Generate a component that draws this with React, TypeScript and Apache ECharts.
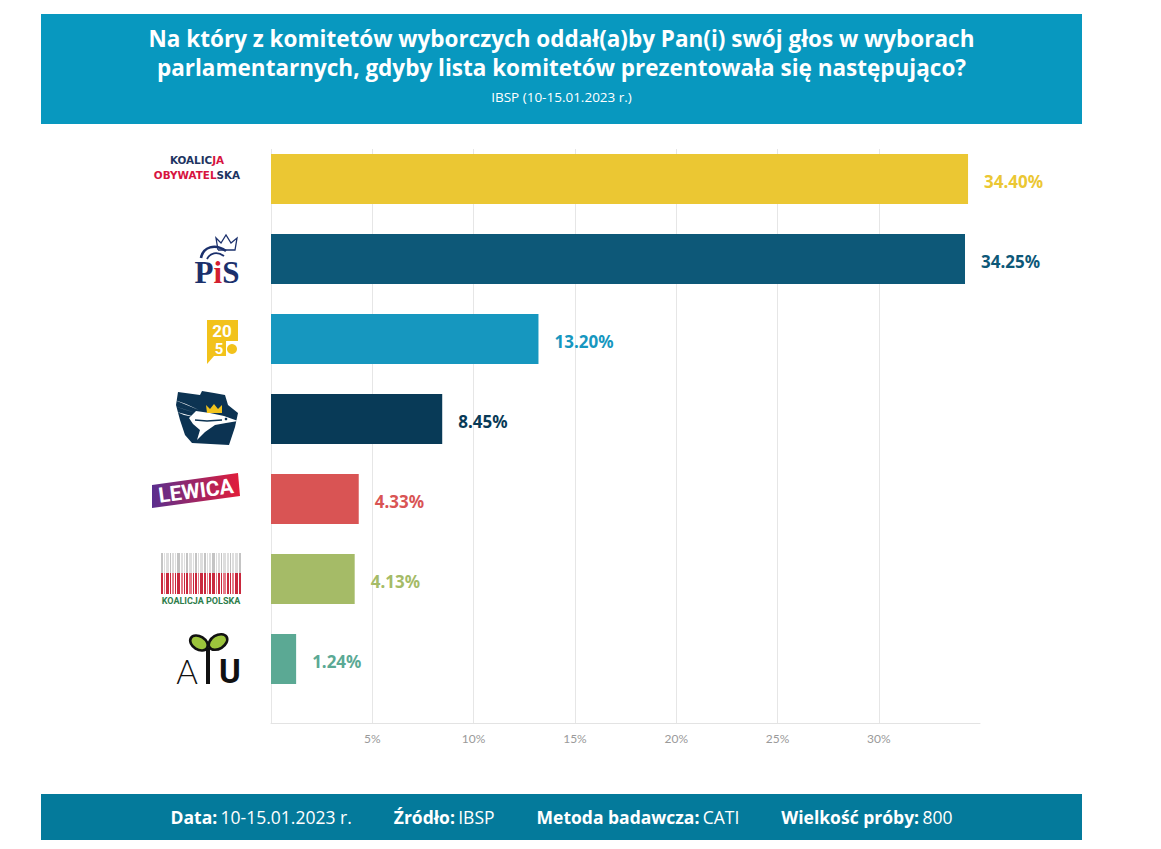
import React, { useEffect, useRef } from "react";
import * as echarts from "echarts";

// ---- data ----
const categories = [
  "Koalicja Obywatelska",
  "Prawo i Sprawiedliwość",
  "Polska 2050",
  "Konfederacja",
  "Lewica",
  "Koalicja Polska",
  "Agrounia",
];
const values = [34.4, 34.25, 13.2, 8.45, 4.33, 4.13, 1.24];
const barColors = ["#ebc733", "#0d5878", "#1697bf", "#083a57", "#d95454", "#a5bb67", "#5ba994"];
const axisMax = 34.99;
const axisInterval = 5;
const titleLine1 = "Na który z komitetów wyborczych oddał(a)by Pan(i) swój głos w wyborach";
const titleLine2 = "parlamentarnych, gdyby lista komitetów prezentowała się następująco?";
const subtitle = "IBSP (10-15.01.2023 r.)";
const footerLabels = ["Data:", "Źródło:", "Metoda badawcza:", "Wielkość próby:"];
const footerValues = ["10-15.01.2023 r.", "IBSP", "CATI", "800"];

// logo design reference centre (design coordinates of each logo drawing)
const LOGO_REF_Y = [179, 259, 339, 419, 499, 579, 659];

const HEAD_FONT = "'Open Sans', 'Noto Sans', sans-serif";
const AXIS_FONT = "Lato, 'Noto Sans', sans-serif";
const LABEL_FONT = "'Noto Sans', Roboto, sans-serif";

const center = { align: "center", verticalAlign: "middle", textAlign: "center", textVerticalAlign: "middle" };

function koLogo(): any[] {
  const NAVY = "#1d3461";
  const RED = "#d7143f";
  const st = (fill: string) => ({ fill, fontSize: 10.4, lineHeight: 12, fontWeight: "bold", fontFamily: "'DejaVu Sans', sans-serif" });
  return [
    { type: "text", style: { text: "{n|KOALIC}{r|JA}", x: 197, y: 160, ...center, rich: { n: st(NAVY), r: st(RED) } } },
    { type: "text", style: { text: "{r|OBYWATEL}{n|SKA}", x: 197, y: 175, ...center, rich: { n: st(NAVY), r: st(RED) } } },
  ];
}

function pisLogo(): any[] {
  const NAVY = "#1b306c";
  const RED = "#d3202f";
  const st = (fill: string) => ({ fill, fontSize: 31, fontWeight: "bold", fontFamily: "'Liberation Serif', serif" });
  return [
    {
      type: "polyline",
      shape: { points: [[218, 250], [216, 238], [221, 243], [226, 235], [231, 243], [237, 238], [235, 250], [218, 250]] },
      style: { stroke: NAVY, lineWidth: 1.3, fill: "none" },
    },
    {
      type: "bezierCurve",
      shape: { x1: 201, y1: 258, cpx1: 203, cpy1: 247, cpx2: 215, cpy2: 243, x2: 226, y2: 251 },
      style: { stroke: NAVY, lineWidth: 2.6, fill: "none" },
    },
    {
      type: "bezierCurve",
      shape: { x1: 207, y1: 259, cpx1: 210, cpy1: 253, cpx2: 217, cpy2: 251, x2: 224, y2: 256 },
      style: { stroke: NAVY, lineWidth: 1.8, fill: "none" },
    },
    { type: "text", style: { text: "{p|P}{i|i}{p|S}", x: 217, y: 272, ...center, rich: { p: st(NAVY), i: st(RED) } } },
  ];
}

function p2050Logo(): any[] {
  const Y = "#f2c21b";
  return [
    {
      type: "polygon",
      shape: { points: [[207, 320], [238, 320], [238, 341], [226, 341], [226, 356], [214, 356], [207, 364]] },
      style: { fill: Y },
    },
    { type: "text", style: { text: "20", x: 222, y: 331, ...center, fill: "#ffffff", fontSize: 17, fontWeight: "bold", fontFamily: "Roboto" } },
    { type: "text", style: { text: "5", x: 219, y: 349, ...center, fill: "#ffffff", fontSize: 15, fontWeight: "bold", fontFamily: "Roboto" } },
    { type: "circle", shape: { cx: 232, cy: 349, r: 5 }, style: { fill: Y } },
  ];
}

function konfLogo(): any[] {
  const NAVY = "#0c3352";
  return [
    {
      type: "polygon",
      shape: {
        points: [[178, 392], [200, 395], [202, 391], [214, 393], [225, 395], [228, 405], [238, 413], [235, 427], [229, 445], [192, 443], [185, 435], [180, 420], [176, 405]],
      },
      style: { fill: NAVY },
    },
    { type: "polygon", shape: { points: [[172, 399], [199, 410], [186, 404]] }, style: { fill: "#ffffff" } },
    { type: "polygon", shape: { points: [[174, 406], [199, 414], [183, 409]] }, style: { fill: "#ffffff" } },
    { type: "polygon", shape: { points: [[177, 412], [199, 418], [184, 415]] }, style: { fill: "#ffffff" } },
    {
      type: "polygon",
      shape: { points: [[196, 411], [210, 413], [224, 416], [238, 421], [226, 423], [215, 425], [205, 432], [197, 440], [200, 430], [193, 424], [189, 418]] },
      style: { fill: "#ffffff" },
    },
    { type: "polyline", shape: { points: [[195, 420], [207, 421], [222, 420]] }, style: { stroke: NAVY, lineWidth: 1.6, fill: "none" } },
    { type: "circle", shape: { cx: 226, cy: 419, r: 1.3 }, style: { fill: NAVY } },
    {
      type: "polygon",
      shape: { points: [[207, 413], [206, 405], [210, 409], [214, 404], [218, 409], [222, 405], [222, 413]] },
      style: { fill: "#f1c31c" },
    },
  ];
}

function lewicaLogo(): any[] {
  return [
    {
      type: "polygon",
      shape: { points: [[152, 485], [238, 473], [240, 496], [152, 508]] },
      style: {
        fill: new echarts.graphic.LinearGradient(0, 0, 1, 0, [
          { offset: 0, color: "#5a2e8e" },
          { offset: 1, color: "#e21d3a" },
        ]),
      },
    },
    {
      type: "text",
      x: 196,
      y: 491,
      rotation: 0.13,
      style: { text: "LEWICA", x: 0, y: 0, ...center, fill: "#ffffff", fontSize: 21, fontWeight: "bold", fontFamily: "Roboto" },
    },
  ];
}

const KP_STRIPES = [
  [0, 2], [3, 1], [5, 3], [9, 1], [11, 2], [14, 1], [16, 3], [20, 2], [23, 1], [25, 2], [28, 3], [32, 1], [34, 2], [37, 1],
  [39, 3], [43, 2], [46, 1], [48, 2], [51, 3], [55, 1], [57, 2], [60, 1], [62, 3], [66, 2], [69, 1], [71, 2], [74, 3], [78, 2],
];

function kpLogo(): any[] {
  const els: any[] = [];
  KP_STRIPES.forEach(([dx, w], k) => {
    els.push({ type: "rect", shape: { x: 161 + dx, y: 553, width: w, height: 20 }, style: { fill: k % 3 === 0 ? "#c4c4c4" : "#dedede" } });
    els.push({ type: "rect", shape: { x: 161 + dx, y: 573, width: w, height: 21 }, style: { fill: k % 3 === 1 ? "#e57b88" : "#c9283d" } });
  });
  els.push({
    type: "text",
    style: { text: "KOALICJA POLSKA", x: 201, y: 600.5, ...center, fill: "#2d7d4b", fontSize: 9, fontWeight: "bold", fontFamily: "Roboto" },
  });
  return els;
}

function auLogo(): any[] {
  const G = "#9cc43c";
  return [
    { type: "line", shape: { x1: 208, y1: 648, x2: 208, y2: 684 }, style: { stroke: "#111111", lineWidth: 4 } },
    { type: "ellipse", x: 199, y: 643, rotation: -0.55, shape: { cx: 0, cy: 0, rx: 9.5, ry: 6.5 }, style: { fill: G, stroke: "#111111", lineWidth: 2.6 } },
    { type: "ellipse", x: 218, y: 642, rotation: 0.55, shape: { cx: 0, cy: 0, rx: 10, ry: 6.8 }, style: { fill: G, stroke: "#111111", lineWidth: 2.6 } },
    { type: "text", style: { text: "A", x: 187, y: 671, ...center, fill: "#111111", fontSize: 33, fontWeight: 300, fontFamily: "Lato" } },
    { type: "text", style: { text: "U", x: 230, y: 671, ...center, fill: "#111111", fontSize: 33, fontWeight: "bold", fontFamily: "Roboto" } },
  ];
}

const logoBuilders = [koLogo, pisLogo, p2050Logo, konfLogo, lewicaLogo, kpLogo, auLogo];

function buildFooterText(): string {
  return footerLabels.map((l, i) => `{b|${l}} {r|${footerValues[i]}}`).join("{s| }");
}

export default function App() {
  const ref = useRef<HTMLDivElement>(null);

  useEffect(() => {
    document.body.style.margin = "0";
    if (!ref.current) return;
    const chart = echarts.init(ref.current, null, { renderer: "svg" });

    const option: any = {
      animation: false,
      backgroundColor: "#ffffff",
      grid: [
        { left: 271, top: 139, width: 709, height: 560 },
        { left: 271, top: 149, width: 709, height: 574 },
      ],
      xAxis: [
        { gridIndex: 0, type: "value", min: 0, max: axisMax, show: false },
        {
          gridIndex: 1,
          type: "value",
          min: 0,
          max: axisMax,
          interval: axisInterval,
          axisLine: { show: true, onZero: false, lineStyle: { color: "#e3e3e3", width: 1 } },
          axisTick: { show: false },
          splitLine: { show: true, showMaxLine: false, lineStyle: { color: "#e6e6e6", width: 1 } },
          axisLabel: {
            formatter: "{value}%",
            showMinLabel: false,
            showMaxLabel: false,
            color: "#9a9a9a",
            fontSize: 12,
            fontFamily: AXIS_FONT,
            margin: 9,
          },
        },
      ],
      yAxis: [
        {
          gridIndex: 0,
          type: "category",
          data: categories,
          inverse: true,
          axisLine: { show: false },
          axisTick: { show: false },
          axisLabel: { show: false },
          splitLine: { show: false },
        },
        { gridIndex: 1, type: "value", min: 0, max: 1, show: false },
      ],
      series: [
        {
          type: "bar",
          xAxisIndex: 0,
          yAxisIndex: 0,
          barWidth: 50,
          silent: true,
          data: values.map((v, i) => ({
            value: v,
            itemStyle: { color: barColors[i] },
            label: { color: barColors[i] },
          })),
          label: {
            show: true,
            position: "right",
            distance: 16,
            offset: [0, 2],
            formatter: (p: any) => `${Number(p.value).toFixed(2)}%`,
            fontFamily: LABEL_FONT,
            fontWeight: "bold",
            fontSize: 17,
          },
        },
      ],
    };
    chart.setOption(option);

    const logos = categories.map((c, i) => {
      let py: any = chart.convertToPixel({ yAxisIndex: 0 } as any, c as any);
      if (Array.isArray(py)) py = py[1];
      if (typeof py !== "number" || isNaN(py)) py = LOGO_REF_Y[i];
      return { type: "group", x: 0, y: py - LOGO_REF_Y[i], children: logoBuilders[i]() };
    });

    const titleStyle = { ...center, fill: "#ffffff", fontSize: 22.5, lineHeight: 25, fontWeight: "bold", fontFamily: HEAD_FONT };
    const header: any[] = [
      { type: "rect", shape: { x: 41, y: 14, width: 1041, height: 110 }, style: { fill: "#0898bf" } },
      { type: "text", style: { text: titleLine1, x: 561.5, y: 38, ...titleStyle } },
      { type: "text", style: { text: titleLine2, x: 561.5, y: 67, ...titleStyle } },
      {
        type: "text",
        style: { text: subtitle, x: 561.5, y: 97, ...center, fill: "#ffffff", fontSize: 13.5, fontFamily: HEAD_FONT },
      },
    ];

    const footer: any[] = [
      { type: "rect", shape: { x: 41, y: 794, width: 1041, height: 46 }, style: { fill: "#047a9b" } },
      {
        type: "text",
        style: {
          text: buildFooterText(),
          x: 561.5,
          y: 817,
          ...center,
          rich: {
            b: { fill: "#ffffff", fontSize: 17.5, fontWeight: "bold", fontFamily: HEAD_FONT },
            r: { fill: "#ffffff", fontSize: 17.5, fontFamily: HEAD_FONT },
            s: { fill: "#ffffff", fontSize: 17.5, width: 42, fontFamily: HEAD_FONT },
          },
        },
      },
    ];

    chart.setOption({ graphic: [...header, ...footer, ...logos] });

    return () => {
      chart.dispose();
    };
  }, []);

  return <div ref={ref} style={{ width: 1161, height: 849 }} />;
}
